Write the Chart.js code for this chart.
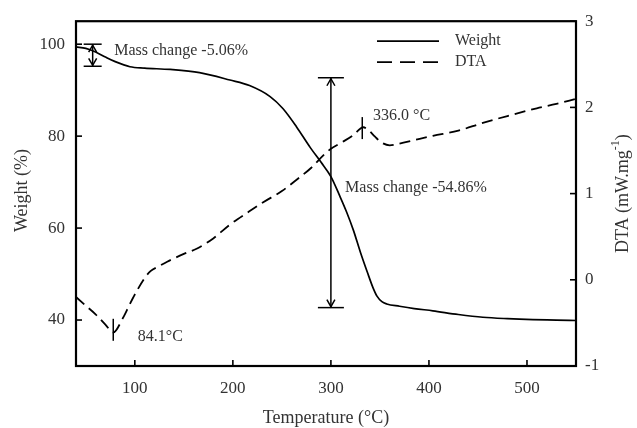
<!DOCTYPE html>
<html><head><meta charset="utf-8">
<script src="https://cdn.jsdelivr.net/npm/chart.js@4/dist/chart.umd.min.js"></script>
<style>html,body{margin:0;padding:0;background:#fff}#wrap{width:637px;height:428px;position:relative}</style>
</head><body><div id="wrap"><canvas id="c"></canvas></div>
<script>
// ---- data ----
const weightTemp   = [40, 50, 60, 70, 80, 95, 110, 136, 166, 197, 217, 238, 251, 265, 279, 290, 300, 309, 316, 323, 330, 337, 343, 347, 352, 357, 370, 385, 404, 430, 455, 480, 506, 530, 550];
const weightValues = [99.4, 99.1, 98.3, 97.2, 96.2, 95.1, 94.8, 94.5, 93.8, 92.2, 91.0, 88.6, 86.0, 82.0, 77.5, 74.3, 71.2, 67.0, 63.5, 59.5, 54.8, 50.5, 47.0, 45.2, 44.0, 43.5, 43.0, 42.5, 42.0, 41.2, 40.6, 40.3, 40.1, 40.0, 39.9];
const dtaTemp   = [40, 50, 60, 70, 78, 88, 95, 102, 110, 116, 125, 133, 150, 163, 180, 197, 215, 231, 250, 266, 280, 292, 300, 312, 323, 333, 338, 345, 352, 360, 370, 385, 404, 430, 455, 480, 510, 530, 550];
const dtaValues = [-0.20, -0.30, -0.40, -0.52, -0.61, -0.44, -0.28, -0.13, 0.02, 0.10, 0.16, 0.21, 0.30, 0.36, 0.48, 0.64, 0.78, 0.90, 1.03, 1.17, 1.30, 1.44, 1.52, 1.60, 1.68, 1.77, 1.74, 1.66, 1.59, 1.56, 1.58, 1.62, 1.67, 1.73, 1.82, 1.90, 1.99, 2.04, 2.10];
const xTicks = [100, 200, 300, 400, 500];
const weightTicks = [40, 60, 80, 100];
const dtaTicks = [-1, 0, 1, 2, 3];
const seriesNames = ['Weight', 'DTA'];
const xTitle = 'Temperature (°C)';
const yTitle = 'Weight (%)';
const y2TitleMain = 'DTA (mW.mg';
const y2TitleSup = '-1';
// mass-change annotations (temperature, top %, bottom %, label, label temperature, label %)
const massArrowTemp   = [57, 300];
const massArrowTop    = [100, 92.7];
const massArrowBottom = [95.2, 42.7];
const massLabels      = ['Mass change -5.06%', 'Mass change -54.86%'];
const massLabelTemp   = [79, 314.5];
const massLabelValue  = [98.6, 68.7];
// DTA peak annotations
const peakTemp   = [78, 332];
const peakValue  = [-0.58, 1.76];
const peakLabels = ['84.1°C', '336.0 °C'];
const peakLabelTemp  = [103, 343];
const peakLabelValue = [-0.66, 1.90];

const FONT = '"Liberation Serif","Times New Roman",serif';
const TXT = '#333';

function line(ctx, x1, y1, x2, y2) { ctx.beginPath(); ctx.moveTo(x1, y1); ctx.lineTo(x2, y2); ctx.stroke(); }

const deco = {
  id: 'deco',
  afterDatasetsDraw(chart) {
    const { ctx, chartArea: a, scales } = chart;
    const x = scales.x, y = scales.y, y2 = scales.y2;
    ctx.save();
    ctx.strokeStyle = '#000';
    // frame
    ctx.lineWidth = 2.2;
    ctx.strokeRect(a.left, a.top, a.right - a.left, a.bottom - a.top);
    // inward tick marks
    ctx.lineWidth = 1.6;
    x.ticks.forEach(t => { const p = x.getPixelForValue(t.value); line(ctx, p, a.bottom, p, a.bottom - 6); });
    y.ticks.forEach(t => { const p = y.getPixelForValue(t.value); line(ctx, a.left, p, a.left + 6, p); });
    y2.ticks.forEach(t => { const p = y2.getPixelForValue(t.value); line(ctx, a.right, p, a.right - 6, p); });

    // mass change arrows
    ctx.lineWidth = 1.5;
    massArrowTemp.forEach((t, i) => {
      const px = x.getPixelForValue(t);
      const pt = y.getPixelForValue(massArrowTop[i]);
      const pb = y.getPixelForValue(massArrowBottom[i]);
      const cap = i === 0 ? 9 : 13;
      line(ctx, px, pt, px, pb);
      line(ctx, px - cap, pt, px + cap, pt);
      line(ctx, px - cap, pb, px + cap, pb);
      ctx.beginPath(); ctx.moveTo(px - 4, pt + 8); ctx.lineTo(px, pt + 1); ctx.lineTo(px + 4, pt + 8); ctx.stroke();
      ctx.beginPath(); ctx.moveTo(px - 4, pb - 8); ctx.lineTo(px, pb - 1); ctx.lineTo(px + 4, pb - 8); ctx.stroke();
    });
    // peak markers
    peakTemp.forEach((t, i) => {
      const px = x.getPixelForValue(t), py = y2.getPixelForValue(peakValue[i]);
      line(ctx, px, py - 11, px, py + 11);
    });

    ctx.fillStyle = TXT;
    ctx.textBaseline = 'middle';
    ctx.textAlign = 'left';
    ctx.font = '16px ' + FONT;
    massLabels.forEach((s, i) => ctx.fillText(s, x.getPixelForValue(massLabelTemp[i]), y.getPixelForValue(massLabelValue[i])));
    peakLabels.forEach((s, i) => ctx.fillText(s, x.getPixelForValue(peakLabelTemp[i]), y2.getPixelForValue(peakLabelValue[i])));

    // legend
    const lx = a.right - 199;
    chart.data.datasets.forEach((ds, i) => {
      const ly = a.top + 20 + i * 21;
      ctx.strokeStyle = '#000';
      ctx.lineWidth = 1.7;
      ctx.setLineDash(ds.borderDash ? [15, 8] : []);
      line(ctx, lx, ly, lx + 62, ly);
      ctx.setLineDash([]);
      ctx.fillText(ds.label, lx + 78, ly);
    });

    // axis titles
    ctx.font = '18px ' + FONT;
    ctx.textAlign = 'center';
    ctx.fillText(xTitle, (a.left + a.right) / 2, a.bottom + 52);
    ctx.save();
    ctx.translate(22, (a.top + a.bottom) / 2 - 3);
    ctx.rotate(-Math.PI / 2);
    ctx.fillText(yTitle, 0, 0);
    ctx.restore();
    // right title with superscript
    ctx.save();
    ctx.translate(623, (a.top + a.bottom) / 2);
    ctx.rotate(-Math.PI / 2);
    ctx.textAlign = 'left';
    ctx.font = '18px ' + FONT;
    const w1 = ctx.measureText(y2TitleMain).width;
    ctx.font = '12px ' + FONT;
    const w2 = ctx.measureText(y2TitleSup).width;
    ctx.font = '18px ' + FONT;
    const w3 = ctx.measureText(')').width;
    let sx = -(w1 + w2 + w3) / 2;
    ctx.fillText(y2TitleMain, sx, 0); sx += w1;
    ctx.font = '12px ' + FONT;
    ctx.fillText(y2TitleSup, sx, -7); sx += w2;
    ctx.font = '18px ' + FONT;
    ctx.fillText(')', sx, 0);
    ctx.restore();
    ctx.restore();
  }
};

const tickFont = { family: FONT, size: 17 };
new Chart(document.getElementById('c'), {
  type: 'line',
  data: {
    datasets: [
      { label: seriesNames[0], data: weightTemp.map((t, i) => ({ x: t, y: weightValues[i] })), yAxisID: 'y',
        borderColor: '#000', borderWidth: 1.7, pointRadius: 0, cubicInterpolationMode: 'monotone', fill: false },
      { label: seriesNames[1], data: dtaTemp.map((t, i) => ({ x: t, y: dtaValues[i] })), yAxisID: 'y2',
        borderColor: '#000', borderWidth: 1.8, borderDash: [11, 6], pointRadius: 0, cubicInterpolationMode: 'monotone', fill: false }
    ]
  },
  options: {
    responsive: true, maintainAspectRatio: false, animation: false,
    layout: { padding: { top: 17, left: 0, right: 0, bottom: 0 } },
    plugins: { legend: { display: false }, tooltip: { enabled: false } },
    scales: {
      x: { type: 'linear', min: 40, max: 550,
        afterBuildTicks: s => { s.ticks = xTicks.map(v => ({ value: v })); },
        afterFit: s => { s.height = 62; },
        grid: { display: false, drawTicks: false }, border: { display: false },
        ticks: { font: tickFont, color: TXT, padding: 12, maxRotation: 0 } },
      y: { type: 'linear', position: 'left', min: 30, max: 105,
        afterBuildTicks: s => { s.ticks = weightTicks.map(v => ({ value: v })); },
        afterFit: s => { s.width = 76; },
        grid: { display: false, drawTicks: false }, border: { display: false },
        ticks: { font: tickFont, color: TXT, padding: 11 } },
      y2: { type: 'linear', position: 'right', min: -1, max: 3,
        afterBuildTicks: s => { s.ticks = dtaTicks.map(v => ({ value: v })); },
        afterFit: s => { s.width = 61; },
        grid: { display: false, drawTicks: false }, border: { display: false },
        ticks: { font: tickFont, color: TXT, padding: 9 } }
    }
  },
  plugins: [deco]
});
</script></body></html>
